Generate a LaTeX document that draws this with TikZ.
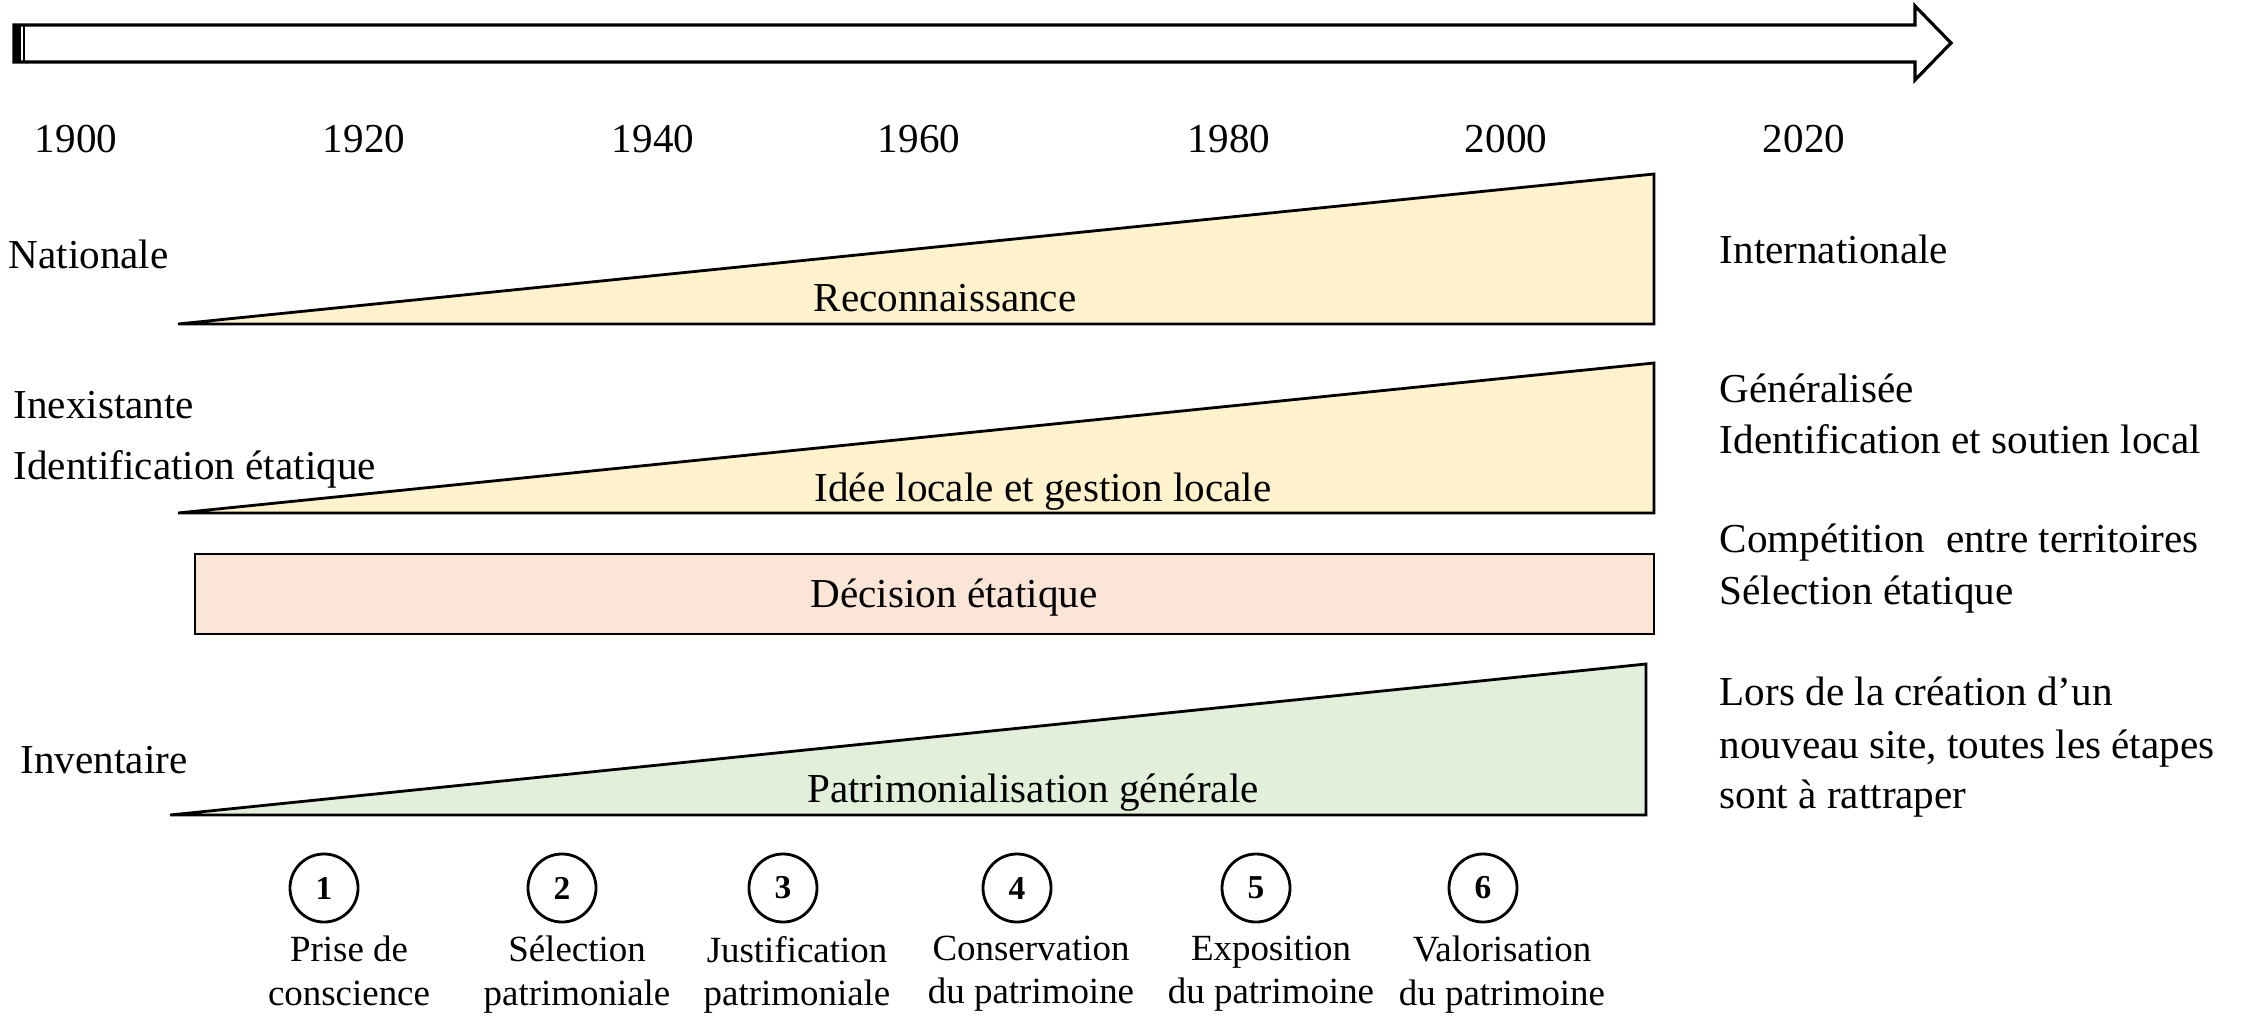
\documentclass[tikz,border=0pt]{standalone}
\usepackage{fontspec}
\setmainfont{Liberation Serif}
\usetikzlibrary{positioning}
\definecolor{jaune}{HTML}{FFF2CC}
\definecolor{rose}{HTML}{FBE5D6}
\definecolor{vert}{HTML}{E2EFDA}
\tikzset{
  etiq/.style={font=\fontsize{11.7}{14}\selectfont, inner sep=0pt, anchor=base west},
  titre/.style={font=\fontsize{11.7}{14}\selectfont, inner sep=0pt, anchor=base},
  bande/.style={draw=black, line width=0.8pt, line join=miter},
  etape/.style={draw, circle, line width=0.8pt, minimum size=0.68cm, inner sep=0pt, font=\bfseries\fontsize{9.5}{11}\selectfont},
  legende/.style={font=\fontsize{10.5}{12.3}\selectfont, align=center, inner sep=0pt}
}
\begin{document}
\begin{tikzpicture}[x=0.01cm,y=-0.01cm, line join=round, line cap=round]
\useasboundingbox (0,0) rectangle (2249,1015);
\draw[line width=0.9pt, line join=miter] (14,25) -- (1915,25) -- (1915,6) -- (1951,43) -- (1915,80) -- (1915,62) -- (14,62) -- cycle;
\fill (14,25) rectangle (21,62);
\draw[line width=0.8pt, line cap=butt] (24,25) -- (24,62);
\foreach \x/\an in {76/1900,364/1920,653/1940,919/1960,1229/1980,1506/2000,1804/2020}
  \node[titre] (a\an) at (\x,152) {\an};
\draw[bande, fill=jaune] (178,324) -- (1654,174) -- (1654,324) -- cycle;
\node[titre] (reco) at (945,311) {Reconnaissance};
\draw[bande, fill=jaune] (178,513) -- (1654,363) -- (1654,513) -- cycle;
\node[titre] (idee) at (1043,501) {Idée locale et gestion locale};
\draw[bande, fill=rose] (195,554) rectangle (1654,634);
\node[titre] (decision) at (954,607) {Décision étatique};
\draw[bande, fill=vert] (170,815) -- (1646,664) -- (1646,815) -- cycle;
\node[titre] (patri) at (1033,802) {Patrimonialisation générale};
\node[etiq] (nat) at (8,268) {Nationale};
\node[etiq] (inex) at (13,418) {Inexistante};
\node[etiq] (ident) at (13,479) {Identification étatique};
\node[etiq] (inv) at (20,773) {Inventaire};
\node[etiq] (inter) at (1719,263) {Internationale};
\node[etiq] (gene) at (1719,402) {Généralisée};
\node[etiq] (soutien) at (1719,453) {Identification et soutien local};
\node[etiq] (compet) at (1719,552) {Compétition~ entre territoires};
\node[etiq] (select) at (1719,604) {Sélection étatique};
\node[etiq] (lors1) at (1719,705) {Lors de la création d’un};
\node[etiq] (lors2) at (1719,758) {nouveau site, toutes les étapes};
\node[etiq] (lors3) at (1719,808) {sont à rattraper};
\foreach \x/\n/\dx/\t in {324/1/0.25/{Prise de\\conscience},562/2/0.15/{Sélection\\patrimoniale},783/3/0.14/{Justification\\patrimoniale},1017/4/0.14/{Conservation\\du patrimoine},1256/5/0.15/{Exposition\\du patrimoine},1483/6/0.19/{Valorisation\\du patrimoine}}{
  \node[etape] (s\n) at (\x,888) {\n};
  \node[legende, below=0.12cm of s\n, xshift=\dx cm] (l\n) {\t};
}
\end{tikzpicture}
\end{document}
